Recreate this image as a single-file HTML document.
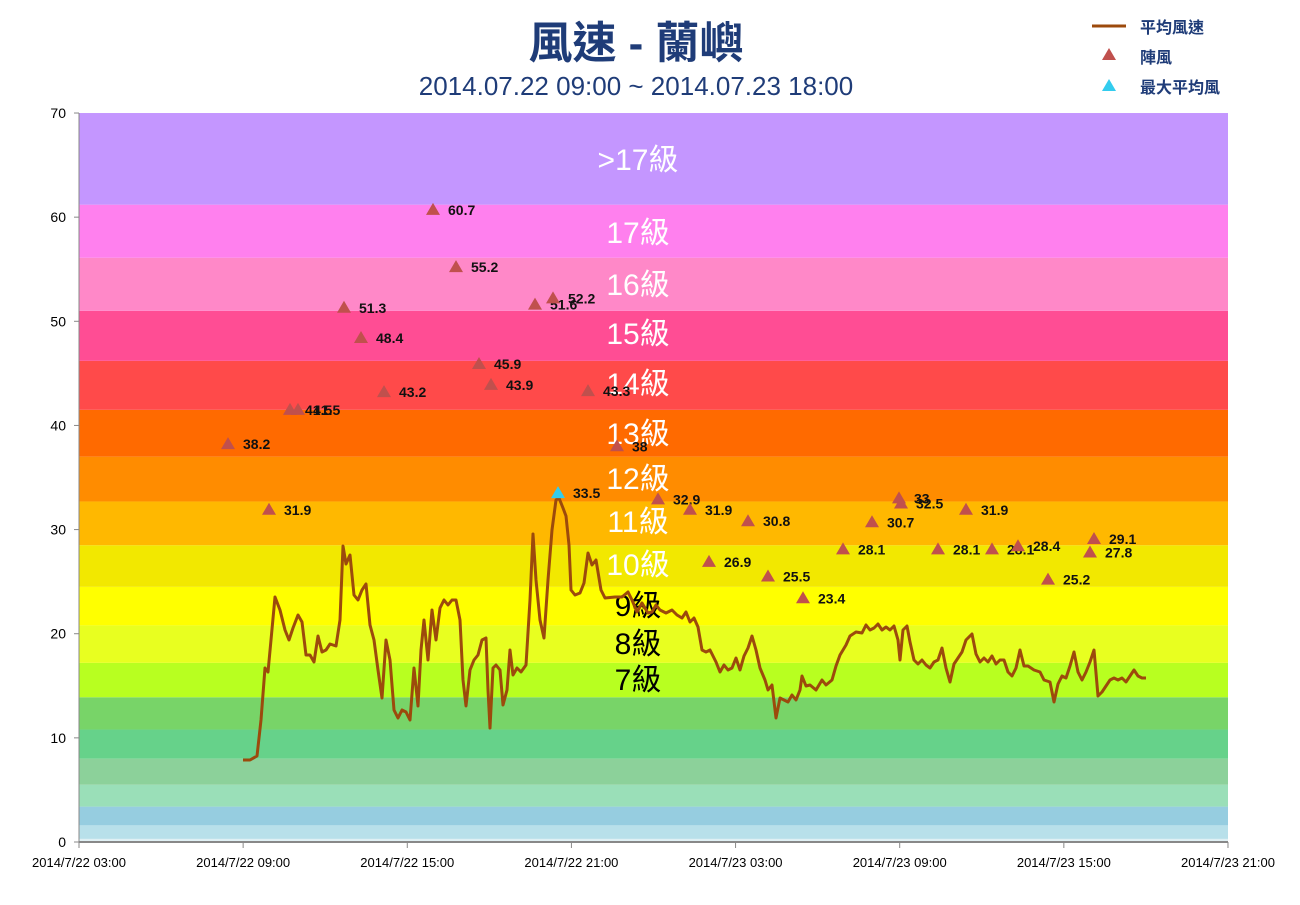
<!DOCTYPE html>
<html><head><meta charset="utf-8"><style>
body{margin:0;background:#fff;width:1300px;height:900px;overflow:hidden}
svg text{font-family:"Liberation Sans","Noto Sans CJK TC",sans-serif}
</style></head><body>
<svg id="s" width="1300" height="900" xmlns="http://www.w3.org/2000/svg"></svg>
<script>
const s=document.getElementById('s');let h='';
const Y=v=>842-v*10.414;
const bands=[[0,0.3,'#e0f0f4'],[0.3,1.6,'#b8e0ea'],[1.6,3.4,'#96cde0'],[3.4,5.5,'#9adfb8'],[5.5,8,'#8cd19a'],[8,10.8,'#66d28a'],[10.8,13.9,'#78d468'],[13.9,17.2,'#b8ff20'],[17.2,20.8,'#e8ff20'],[20.8,24.5,'#ffff00'],[24.5,28.5,'#f2e800'],[28.5,32.7,'#ffb800'],[32.7,37,'#ff8c00'],[37,41.5,'#ff6a00'],[41.5,46.2,'#ff4a4a'],[46.2,51,'#ff4d94'],[51,56.1,'#ff88c8'],[56.1,61.2,'#ff80ee'],[61.2,70,'#c496ff']];
bands.forEach(b=>{h+=`<rect x="79" y="${Y(b[1])}" width="1149" height="${Y(b[0])-Y(b[1])}" fill="${b[2]}"/>`});
const labs=[['>17級',160,'#fff'],['17級',233,'#fff'],['16級',285,'#fff'],['15級',334,'#fff'],['14級',384,'#fff'],['13級',434,'#fff'],['12級',479,'#fff'],['11級',522,'#fff'],['10級',565,'#fff'],['9級',606,'#000'],['8級',644,'#000'],['7級',680,'#000']];
labs.forEach(l=>{h+=`<text x="638" y="${l[1]+10}" font-size="30" fill="${l[2]}" text-anchor="middle">${l[0]}</text>`});
h+=`<line x1="79" y1="113" x2="79" y2="842" stroke="#888"/><line x1="79" y1="842" x2="1228" y2="842" stroke="#888" stroke-width="2"/>`;
for(let v=0;v<=70;v+=10){h+=`<line x1="74" y1="${Y(v)}" x2="79" y2="${Y(v)}" stroke="#888"/><text x="66" y="${Y(v)+5}" font-size="14" text-anchor="end">${v}</text>`}
const xl=['2014/7/22 03:00','2014/7/22 09:00','2014/7/22 15:00','2014/7/22 21:00','2014/7/23 03:00','2014/7/23 09:00','2014/7/23 15:00','2014/7/23 21:00'];
xl.forEach((t,i)=>{const x=79+i*164.14;h+=`<line x1="${x}" y1="842" x2="${x}" y2="848" stroke="#888"/><text x="${x}" y="867" font-size="13" text-anchor="middle">${t}</text>`});
const p=[243,760,250,760,257,756,261,720,265,668,268,672,271,640,275,597,280,610,285,630,289,640,293,628,298,615,302,622,306,655,310,655,314,662,318,636,322,652,326,650,330,644,336,646,340,620,343,546,346,564,350,555,354,595,358,600,362,590,366,584,370,625,374,640,378,670,382,698,386,640,390,660,394,710,398,718,402,710,406,712,410,720,414,668,418,706,421,650,424,620,428,660,432,610,436,640,440,608,444,600,448,605,452,600,456,600,460,620,463,680,466,706,470,670,474,660,478,655,482,640,486,638,488,690,490,728,493,668,496,665,500,670,503,705,507,690,510,650,513,675,517,668,521,672,526,665,530,600,533,534,536,580,540,620,544,638,548,580,552,530,556,500,559,498,563,508,566,516,569,545,571,590,575,595,580,593,584,583,588,553,592,565,596,560,601,590,605,598,615,597,622,597,628,592,632,600,637,612,642,603,648,613,652,612,656,605,660,610,666,613,672,610,677,615,682,618,686,612,690,622,694,618,698,627,702,650,706,652,710,650,716,662,720,672,724,665,728,670,732,668,736,658,740,670,744,656,748,648,752,636,756,650,760,668,765,680,768,690,772,685,776,718,780,698,784,700,788,702,792,695,796,700,800,690,802,676,806,686,810,685,816,690,822,680,826,685,832,680,836,666,840,655,846,645,850,636,856,632,862,633,866,625,870,630,874,628,878,624,882,630,886,627,890,630,894,626,898,640,900,660,903,630,907,626,910,642,914,660,918,664,922,660,926,665,930,668,934,662,938,660,942,648,946,668,950,682,954,664,958,658,962,652,966,640,972,634,976,654,980,662,984,658,988,662,992,656,996,664,1000,660,1004,660,1008,672,1012,676,1016,668,1020,650,1024,666,1028,666,1034,670,1040,672,1044,680,1050,682,1054,702,1058,684,1062,676,1066,678,1070,666,1074,652,1078,672,1082,680,1086,672,1090,662,1094,650,1098,696,1102,692,1106,686,1110,680,1114,678,1118,680,1122,678,1126,682,1130,676,1134,670,1138,676,1142,678,1146,678];
let d='M';for(let i=0;i<p.length;i+=2)d+=p[i]+','+p[i+1]+' ';
h+=`<path d="${d}" fill="none" stroke="#9c4a0c" stroke-width="3" stroke-linejoin="round"/>`;
const g=[[228,38.2],[269,31.9],[290,41.5],[298,41.5],[344,51.3],[361,48.4],[384,43.2],[433,60.7],[456,55.2],[479,45.9],[491,43.9],[535,51.6],[553,52.2],[588,43.3],[617,38],[658,32.9],[690,31.9],[709,26.9],[748,30.8],[768,25.5],[803,23.4],[843,28.1],[872,30.7],[899,33],[901,32.5],[938,28.1],[966,31.9],[992,28.1],[1018,28.4],[1048,25.2],[1090,27.8],[1094,29.1]];
const tri=(x,y,c)=>`<path d="M${x},${y-7} L${x+7},${y+5} L${x-7},${y+5}Z" fill="${c}"/>`;
g.forEach(a=>{const y=Y(a[1]);h+=tri(a[0],y,'#c0504d')+`<text x="${a[0]+15}" y="${y+5}" font-size="14" font-weight="bold" fill="#111">${a[1]}</text>`});
const my=Y(33.5);h+=tri(558,my,'#33ccee')+`<text x="573" y="${my+5}" font-size="14" font-weight="bold" fill="#111">33.5</text>`;
h+=`<text x="636" y="58" font-size="44" font-weight="bold" fill="#1f3c78" text-anchor="middle">風速 - 蘭嶼</text>`;
h+=`<text x="636" y="95" font-size="26" fill="#1f3c78" text-anchor="middle">2014.07.22 09:00 ~ 2014.07.23 18:00</text>`;
h+=`<line x1="1092" y1="26" x2="1126" y2="26" stroke="#9c4a0c" stroke-width="3"/><text x="1140" y="33" font-size="16" font-weight="bold" fill="#1f3c78">平均風速</text>`;
h+=tri(1109,55,'#c0504d')+`<text x="1140" y="63" font-size="16" font-weight="bold" fill="#1f3c78">陣風</text>`;
h+=tri(1109,86,'#33ccee')+`<text x="1140" y="93" font-size="16" font-weight="bold" fill="#1f3c78">最大平均風</text>`;
s.innerHTML=h;
</script>
</body></html>
